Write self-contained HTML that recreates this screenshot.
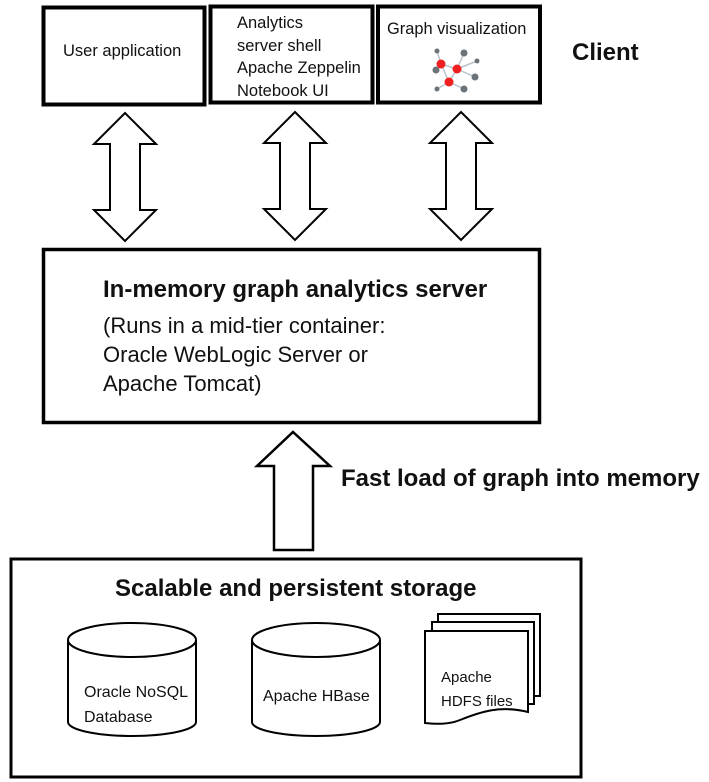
<!DOCTYPE html>
<html><head><style>
body{margin:0;background:#fff;width:709px;height:782px;position:relative;overflow:hidden;font-family:"Liberation Sans",sans-serif;}
.t{position:absolute;color:#111;white-space:nowrap;}
</style></head><body>
<svg width="709" height="782" style="position:absolute;left:0;top:0" xmlns="http://www.w3.org/2000/svg">
<g fill="#fff" stroke="#000">
<rect x="43.5" y="7.5" width="161" height="97" stroke-width="4"/>
<rect x="210.5" y="6.5" width="162" height="96" stroke-width="4"/>
<rect x="378" y="6.5" width="162" height="96" stroke-width="4"/>
<rect x="43.5" y="249.5" width="496" height="173" stroke-width="3.5"/>
<rect x="11" y="559" width="570" height="218" stroke-width="3"/>
<g stroke-width="2">
<path d="M125 113 L156 144 L140 144 L140 210 L156 210 L125 241 L94 210 L110 210 L110 144 L94 144 Z"/>
<path d="M295 112 L326 143 L310 143 L310 209 L326 209 L295 240 L264 209 L280 209 L280 143 L264 143 Z"/>
<path d="M461 112 L492 143 L476 143 L476 209 L492 209 L461 240 L430 209 L446 209 L446 143 L430 143 Z"/>
<path d="M293 432 L330 466 L313 466 L313 550 L274 550 L274 466 L257 466 Z" stroke-width="2.5"/>
<path d="M68 640 L68 722 A64 14 0 0 0 196 722 L196 640"/>
<ellipse cx="132" cy="640" rx="64" ry="17"/>
<path d="M252 640 L252 722 A64 14 0 0 0 380 722 L380 640"/>
<ellipse cx="316" cy="640" rx="64" ry="17"/>
<path d="M438 614 L540 614 L540 696 L438 696 Z"/>
<path d="M432 622 L534 622 L534 704 L432 704 Z"/>
<path d="M425 631 L528 631 L528 712 C500 705 480 712 460 720 C448 725 435 724 425 723 Z"/>
</g>
</g>
<g stroke="#b8c4cc" stroke-width="1.5">
<line x1="441" y1="64" x2="457" y2="69"/><line x1="441" y1="64" x2="449" y2="82"/><line x1="457" y1="69" x2="449" y2="82"/>
<line x1="441" y1="64" x2="436" y2="70"/><line x1="441" y1="64" x2="437" y2="51"/><line x1="457" y1="69" x2="464" y2="53"/>
<line x1="457" y1="69" x2="477" y2="61"/><line x1="457" y1="69" x2="475" y2="77"/><line x1="449" y1="82" x2="464" y2="89"/><line x1="449" y1="82" x2="437" y2="89"/>
</g>
<g fill="#6b7378"><circle cx="436" cy="70" r="3.5"/><circle cx="437" cy="51" r="2.5"/><circle cx="464" cy="53" r="3.5"/><circle cx="477" cy="61" r="2.5"/><circle cx="475" cy="77" r="3.5"/><circle cx="464" cy="89" r="3.5"/><circle cx="437" cy="89" r="2.5"/></g>
<g fill="#f02020"><circle cx="441" cy="64" r="4.5"/><circle cx="457" cy="69" r="4.5"/><circle cx="449" cy="82" r="4.5"/></g>
</svg>
<div class="t" style="left:63px;top:42px;font-size:16.5px">User application</div>
<div class="t" style="left:237px;top:12px;font-size:16.5px;line-height:22.5px">Analytics<br>server shell<br>Apache Zeppelin<br>Notebook UI</div>
<div class="t" style="left:387px;top:20px;font-size:16.4px">Graph visualization</div>
<div class="t" style="left:572px;top:39px;font-size:24px;font-weight:bold">Client</div>
<div class="t" style="left:103px;top:276px;font-size:24px;font-weight:bold">In-memory graph analytics server</div>
<div class="t" style="left:103px;top:311px;font-size:22px;line-height:29px">(Runs in a mid-tier container:<br>Oracle WebLogic Server or<br>Apache Tomcat)</div>
<div class="t" style="left:341px;top:465px;font-size:24px;font-weight:bold">Fast load of graph into memory</div>
<div class="t" style="left:115px;top:575px;font-size:24px;font-weight:bold">Scalable and persistent storage</div>
<div class="t" style="left:84px;top:680px;font-size:16px;line-height:25px">Oracle NoSQL<br>Database</div>
<div class="t" style="left:263px;top:688px;font-size:16px">Apache HBase</div>
<div class="t" style="left:441px;top:666px;font-size:15px;line-height:24px">Apache<br>HDFS files</div>
</body></html>
